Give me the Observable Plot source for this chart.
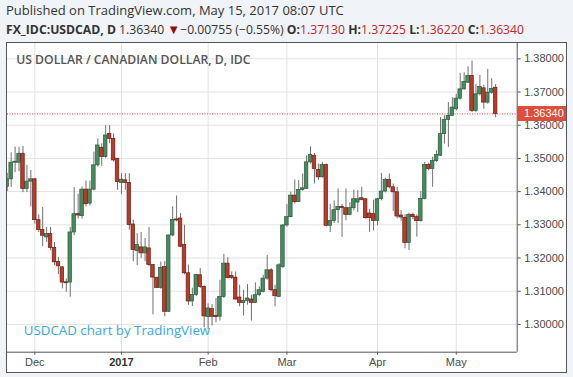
<!DOCTYPE html>
<html><head><meta charset="utf-8">
<script src="https://cdn.jsdelivr.net/npm/d3@7"></script>
<script src="https://cdn.jsdelivr.net/npm/@observablehq/plot@0.6"></script>
<style>
body{margin:0;background:#f0f3f7;width:573px;height:377px;overflow:hidden;position:relative;font-family:"Open Sans",sans-serif;}
#h1{position:absolute;left:6px;top:2px;font-size:13px;line-height:17px;color:#333;white-space:nowrap}
#h2{position:absolute;left:6px;top:21px;font-size:12.2px;line-height:17px;color:#333;white-space:nowrap}
#h2 b{font-weight:700}
#h2 .r{color:#c0262b}
#h2 .t{color:#8b1111;font-size:13px}
#panel{position:absolute;left:6px;top:42px;width:559px;height:329px;border:1px solid #555;background:#fff}
#chart{position:absolute;left:0;top:43px}
#plabel{position:absolute;left:517px;width:42px;height:15px;padding-left:7px;background:#dc4f3d;color:#fff;font:11px/15px "Liberation Sans",Arial,sans-serif}
</style></head>
<body>
<div id="h1">Published on TradingView.com, May 15, 2017 08:07 UTC</div>
<div id="h2"><b>FX_IDC:USDCAD, D</b> 1.36340 <span class="t">▼</span>−0.00755 (−0.55%) <b>O:</b><span class="r">1.37130</span> <b>H:</b><span class="r">1.37225</span> <b>L:</b><span class="r">1.36220</span> <b>C:</b><span class="r">1.36340</span></div>
<div id="panel"></div>
<div id="chart"></div>
<div id="plabel"></div>
<script>
const title = "US DOLLAR / CANADIAN DOLLAR, D, IDC";
const watermark = "USDCAD chart by TradingView";
const dates = [
"2016-11-22","2016-11-23","2016-11-24","2016-11-25","2016-11-28","2016-11-29","2016-11-30",
"2016-12-01","2016-12-02","2016-12-05","2016-12-06","2016-12-07","2016-12-08","2016-12-09","2016-12-12","2016-12-13","2016-12-14","2016-12-15","2016-12-16","2016-12-19","2016-12-20","2016-12-21","2016-12-22","2016-12-23","2016-12-26","2016-12-27","2016-12-28","2016-12-29","2016-12-30",
"2017-01-02","2017-01-03","2017-01-04","2017-01-05","2017-01-06","2017-01-09","2017-01-10","2017-01-11","2017-01-12","2017-01-13","2017-01-16","2017-01-17","2017-01-18","2017-01-19","2017-01-20","2017-01-23","2017-01-24","2017-01-25","2017-01-26","2017-01-27","2017-01-30","2017-01-31",
"2017-02-01","2017-02-02","2017-02-03","2017-02-06","2017-02-07","2017-02-08","2017-02-09","2017-02-10","2017-02-13","2017-02-14","2017-02-15","2017-02-16","2017-02-17","2017-02-20","2017-02-21","2017-02-22","2017-02-23","2017-02-24","2017-02-27","2017-02-28",
"2017-03-01","2017-03-02","2017-03-03","2017-03-06","2017-03-07","2017-03-08","2017-03-09","2017-03-10","2017-03-13","2017-03-14","2017-03-15","2017-03-16","2017-03-17","2017-03-20","2017-03-21","2017-03-22","2017-03-23","2017-03-24","2017-03-27","2017-03-28","2017-03-29","2017-03-30","2017-03-31",
"2017-04-03","2017-04-04","2017-04-05","2017-04-06","2017-04-07","2017-04-10","2017-04-11","2017-04-12","2017-04-13","2017-04-14","2017-04-17","2017-04-18","2017-04-19","2017-04-20","2017-04-21","2017-04-24","2017-04-25","2017-04-26","2017-04-27","2017-04-28",
"2017-05-01","2017-05-02","2017-05-03","2017-05-04","2017-05-05","2017-05-08","2017-05-09","2017-05-10","2017-05-11","2017-05-12","2017-05-15"];
const opens = [
1.3414,1.3437,1.3487,1.3487,1.3514,1.3408,1.3430,
1.3437,1.3314,1.3284,1.3262,1.3272,1.3230,1.3188,1.3172,1.3127,1.3126,1.3277,1.3332,1.3326,1.3406,1.3364,1.3406,1.3479,1.3532,1.3504,1.3574,1.3559,1.3499,
1.3426,1.3434,1.3426,1.3301,1.3221,1.3232,1.3214,1.3229,1.3179,1.3140,1.3110,1.3173,1.3038,1.3268,1.3316,1.3319,1.3239,1.3154,1.3069,1.3089,1.3148,1.3113,
1.3022,1.3046,1.3026,1.3023,1.3083,1.3183,1.3146,1.3141,1.3081,1.3064,1.3071,1.3075,1.3065,1.3088,1.3098,1.3138,1.3163,1.3103,1.3083,1.3173,
1.3298,1.3323,1.3388,1.3369,1.3405,1.3408,1.3488,1.3508,1.3465,1.3443,1.3480,1.3297,1.3312,1.3344,1.3354,1.3350,1.3330,1.3350,1.3367,1.3380,1.3377,1.3334,1.3332,
1.3312,1.3377,1.3400,1.3435,1.3413,1.3398,1.3328,1.3321,1.3245,1.3330,1.3323,1.3311,1.3378,1.3480,1.3468,1.3492,1.3508,1.3573,1.3616,1.3628,
1.3648,1.3680,1.3708,1.3728,1.3748,1.3643,1.3693,1.3711,1.3668,1.3698,1.3713];
const highs = [
1.3455,1.3517,1.3534,1.3534,1.3536,1.3479,1.3464,
1.3440,1.3330,1.3352,1.3292,1.3292,1.3247,1.3202,1.3172,1.3137,1.3292,1.3412,1.3392,1.3414,1.3432,1.3432,1.3519,1.3559,1.3544,1.3599,1.3599,1.3574,1.3499,
1.3454,1.3454,1.3454,1.3314,1.3274,1.3277,1.3259,1.3292,1.3179,1.3143,1.3188,1.3190,1.3268,1.3354,1.3387,1.3334,1.3299,1.3179,1.3109,1.3151,1.3168,1.3116,
1.3062,1.3060,1.3078,1.3133,1.3211,1.3201,1.3158,1.3158,1.3118,1.3103,1.3120,1.3088,1.3125,1.3113,1.3148,1.3208,1.3168,1.3118,1.3183,1.3301,
1.3361,1.3398,1.3435,1.3433,1.3453,1.3508,1.3535,1.3515,1.3483,1.3488,1.3483,1.3362,1.3372,1.3408,1.3362,1.3408,1.3367,1.3405,1.3403,1.3413,1.3377,1.3347,1.3374,
1.3380,1.3455,1.3441,1.3453,1.3423,1.3413,1.3343,1.3330,1.3335,1.3335,1.3330,1.3400,1.3488,1.3485,1.3503,1.3523,1.3623,1.3628,1.3668,1.3683,
1.3693,1.3756,1.3758,1.3776,1.3793,1.3723,1.3750,1.3720,1.3768,1.3740,1.37225];
const lows = [
1.3400,1.3412,1.3457,1.3460,1.3397,1.3397,1.3354,
1.3302,1.3277,1.3234,1.3247,1.3222,1.3177,1.3150,1.3107,1.3097,1.3082,1.3267,1.3317,1.3317,1.3354,1.3357,1.3402,1.3474,1.3476,1.3500,1.3544,1.3489,1.3404,
1.3391,1.3404,1.3284,1.3189,1.3177,1.3199,1.3189,1.3174,1.3029,1.3108,1.3106,1.3023,1.3036,1.3264,1.3309,1.3231,1.3149,1.3057,1.3054,1.3084,1.3108,1.2990,
1.2985,1.2995,1.3005,1.3010,1.3078,1.3137,1.3135,1.3073,1.3053,1.3025,1.3058,1.3010,1.3063,1.3083,1.3095,1.3133,1.3098,1.3053,1.3081,1.3168,
1.3293,1.3321,1.3363,1.3367,1.3401,1.3406,1.3483,1.3423,1.3433,1.3441,1.3294,1.3277,1.3304,1.3304,1.3262,1.3312,1.3327,1.3342,1.3337,1.3372,1.3317,1.3277,1.3282,
1.3297,1.3372,1.3396,1.3408,1.3340,1.3318,1.3310,1.3228,1.3223,1.3315,1.3263,1.3308,1.3375,1.3463,1.3413,1.3488,1.3506,1.3543,1.3533,1.3626,
1.3643,1.3676,1.3705,1.3726,1.3638,1.3638,1.3688,1.3648,1.3663,1.3693,1.3622];
const closes = [
1.3437,1.3487,1.3490,1.3514,1.3408,1.3430,1.3437,
1.3314,1.3284,1.3267,1.3272,1.3230,1.3187,1.3175,1.3126,1.3124,1.3277,1.3332,1.3328,1.3406,1.3362,1.3406,1.3479,1.3539,1.3504,1.3569,1.3559,1.3494,1.3429,
1.3436,1.3426,1.3299,1.3224,1.3239,1.3214,1.3232,1.3179,1.3141,1.3110,1.3170,1.3038,1.3268,1.3315,1.3313,1.3234,1.3154,1.3069,1.3089,1.3149,1.3113,1.3024,
1.3048,1.3023,1.3022,1.3083,1.3183,1.3140,1.3140,1.3075,1.3065,1.3071,1.3078,1.3065,1.3088,1.3103,1.3138,1.3163,1.3103,1.3085,1.3178,1.3298,
1.3323,1.3388,1.3368,1.3405,1.3410,1.3488,1.3510,1.3468,1.3443,1.3480,1.3297,1.3312,1.3344,1.3354,1.3350,1.3330,1.3350,1.3377,1.3377,1.3375,1.3320,1.3320,1.3312,
1.3377,1.3400,1.3435,1.3413,1.3398,1.3325,1.3322,1.3245,1.3330,1.3323,1.3311,1.3378,1.3480,1.3468,1.3492,1.3510,1.3573,1.3616,1.3628,1.3653,
1.3680,1.3708,1.3730,1.3748,1.3643,1.3693,1.3715,1.3668,1.3698,1.37095,1.3634];
const tickDates = ["2016-12-01","2017-01-02","2017-02-01","2017-03-01","2017-04-03","2017-05-01"];
const tickLabels = ["Dec","2017","Feb","Mar","Apr","May"];
const priceTicks = [1.30,1.31,1.32,1.33,1.34,1.35,1.36,1.37,1.38];
const lastPrice = 1.3634;

const rows = dates.map((d,i)=>({i, date:d, o:opens[i], h:highs[i], l:lows[i], c:closes[i]}));
const up = rows.filter(d=>d.c>=d.o), down = rows.filter(d=>d.c<d.o);
const tickIdx = tickDates.map(d=>dates.indexOf(d));
const lab = new Map(tickIdx.map((t,j)=>[t,tickLabels[j]]));
const boldIdx = tickIdx.filter(t=>lab.get(t)==="2017");
const normIdx = tickIdx.filter(t=>lab.get(t)!=="2017");
const xDom = [0.07, 129.47];
const yDom = [1.29163, 1.38461];
const W = 0.45;
const axisFont = "Liberation Sans, Arial, sans-serif";

const chart = Plot.plot({
  width: 573, height: 334,
  marginLeft: 7, marginRight: 56.3, marginTop: 0, marginBottom: 25.3,
  style: {background: "transparent", fontFamily: axisFont, overflow: "visible"},
  x: {domain: xDom, axis: null},
  y: {domain: yDom, axis: null},
  marks: [
    Plot.gridX({ticks: tickIdx, stroke: "#e3e3e3", strokeOpacity: 1}),
    Plot.gridY({ticks: priceTicks, stroke: "#e3e3e3", strokeOpacity: 1}),
    Plot.text([title], {frameAnchor: "top-left", dx: 8.7, dy: 12, lineAnchor: "top", textAnchor: "start", fontSize: 12.2, fontWeight: 600, fill: "#555", fontFamily: "Open Sans, sans-serif"}),
    Plot.text([watermark], {frameAnchor: "top-left", dx: 16.3, dy: 282, lineAnchor: "top", textAnchor: "start", fontSize: 13.3, fill: "#3aa8e0", fontFamily: "Open Sans, sans-serif"}),
    Plot.ruleY([lastPrice], {stroke: "#e8443a", strokeDasharray: "1,1.5"}),
    Plot.ruleX(rows, {x: "i", y1: "l", y2: "h", stroke: "#707070", strokeWidth: 1, clip: true}),
    Plot.rect(up, {x1: d=>d.i-W, x2: d=>d.i+W, y1: "o", y2: "c", fill: "#478c60", stroke: "#2c5a3c", strokeWidth: 0.7, clip: true}),
    Plot.rect(down, {x1: d=>d.i-W, x2: d=>d.i+W, y1: "o", y2: "c", fill: "#b83b2d", stroke: "#6a1d15", strokeWidth: 0.7, clip: true}),
    Plot.ruleX([xDom[1]], {stroke: "#555"}),
    Plot.ruleY([yDom[0]], {stroke: "#555"}),
    Plot.axisY({anchor: "right", ticks: priceTicks, tickFormat: d=>d.toFixed(5), tickSize: 3, tickPadding: 4, fontSize: 11, fill: "#4a4a4a", stroke: "#555", label: null}),
    Plot.axisX({ticks: normIdx, tickFormat: d=>lab.get(d), tickSize: 3, tickPadding: 3, fontSize: 11, fill: "#4a4a4a", stroke: "#555", label: null}),
    Plot.axisX({ticks: boldIdx, tickFormat: d=>lab.get(d), tickSize: 3, tickPadding: 3, fontSize: 11, fontWeight: "bold", fill: "#333", stroke: "#555", label: null})
  ]
});
document.getElementById("chart").appendChild(chart);
// current price label on the price axis, placed with the plot's y scale
const ys = chart.scale("y").apply(lastPrice);
const pl = document.getElementById("plabel");
pl.style.top = (43 + ys - 7.5) + "px";
pl.textContent = lastPrice.toFixed(5);
</script>
</body></html>
